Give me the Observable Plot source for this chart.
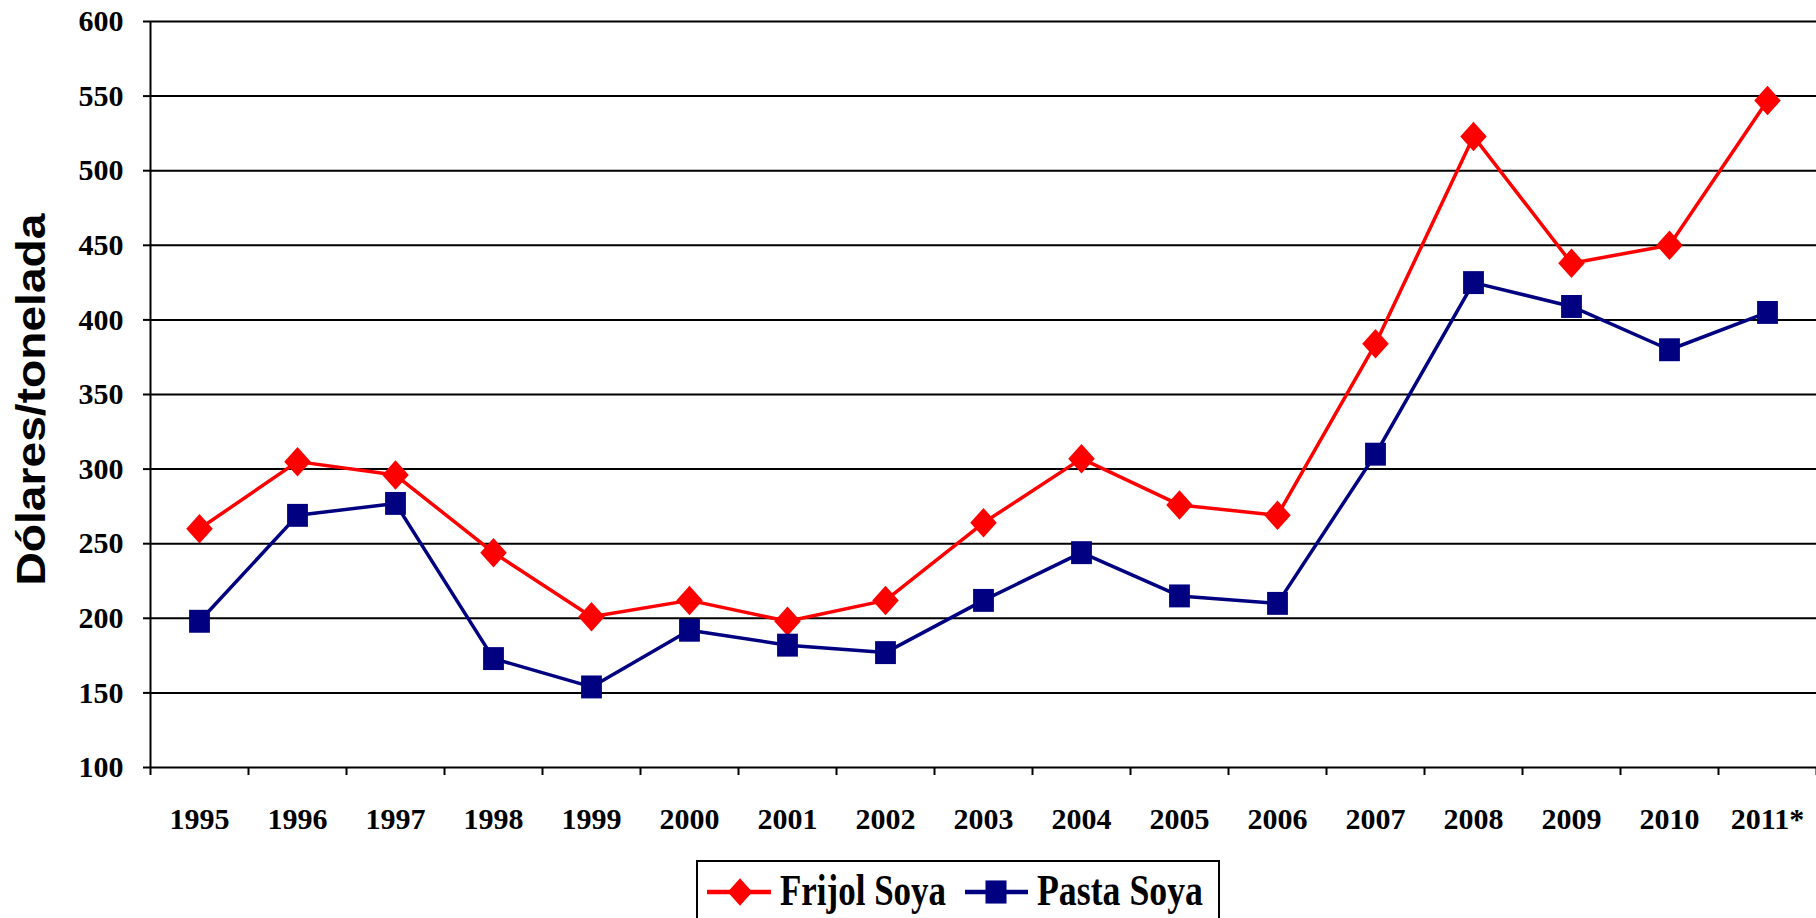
<!DOCTYPE html>
<html>
<head>
<meta charset="utf-8">
<script src="https://cdn.jsdelivr.net/npm/d3@7"></script>
<script src="https://cdn.jsdelivr.net/npm/@observablehq/plot@0.6"></script>
<style>
  html, body { margin: 0; padding: 0; background: #fff; }
  #chart svg { display: block; }
  #legend svg { display: block; }
</style>
</head>
<body>
<div id="chart"></div>
<div id="legend"></div>
<script>
// ---- data ----
const years = ["1995","1996","1997","1998","1999","2000","2001","2002","2003","2004","2005","2006","2007","2008","2009","2010","2011*"];
const frijolSoya = [260, 305, 296, 244, 201, 212, 198, 212, 264, 307, 276, 269, 384, 523, 438, 450, 547];
const pastaSoya  = [198, 269, 277, 173, 154, 192, 182, 177, 212, 244, 215, 210, 310, 425, 409, 380, 405];
const yTicks = [100, 150, 200, 250, 300, 350, 400, 450, 500, 550, 600];
const seriesNames = ["Frijol Soya", "Pasta Soya"];
const seriesColors = ["#ff0000", "#000080"];
const yTitle = "Dólares/tonelada";

const rowsF = years.map((year, i) => ({i, year, value: frijolSoya[i]}));
const rowsP = years.map((year, i) => ({i, year, value: pastaSoya[i]}));
const boundaries = d3.range(years.length + 1).map(k => k - 0.5);
const centers = d3.range(years.length);

const serif = "'Liberation Serif', 'DejaVu Serif', serif";
const sans = "'Liberation Sans', Arial, sans-serif";

// slightly tall diamond and square, as in the reference
const tallDiamond = {draw(ctx, size) {
  const r = Math.sqrt(size / Math.PI), w = r * 1.07, h = r * 1.19;
  ctx.moveTo(0, -h); ctx.lineTo(w, 0); ctx.lineTo(0, h); ctx.lineTo(-w, 0); ctx.closePath();
}};
const tallSquare = {draw(ctx, size) {
  const r = Math.sqrt(size / Math.PI), w = r * 0.89, h = r * 0.98;
  ctx.moveTo(-w, -h); ctx.lineTo(w, -h); ctx.lineTo(w, h); ctx.lineTo(-w, h); ctx.closePath();
}};

const chart = Plot.plot({
  width: 1816,
  height: 855,
  marginLeft: 150,
  marginRight: 0,
  marginTop: 21,
  marginBottom: 88,
  style: {fontFamily: serif, fontWeight: "bold", fontSize: "30px", color: "black", background: "white", overflow: "visible"},
  x: {type: "linear", domain: [-0.5, years.length - 0.5], axis: null},
  y: {domain: [100, 600], axis: null},
  marks: [
    Plot.gridY(yTicks, {stroke: "black", strokeOpacity: 1, strokeWidth: 2}),
    Plot.axisY(yTicks, {label: null, tickSize: 7, tickPadding: 20, stroke: "black", strokeWidth: 2, fontSize: 30, fontWeight: "bold", fontFamily: serif, fill: "black"}),
    Plot.ruleX([-0.5], {stroke: "black", strokeWidth: 2}),
    Plot.axisX(boundaries, {label: null, tickSize: 8, tickFormat: () => "", stroke: "black", strokeWidth: 2}),
    Plot.axisX(centers, {label: null, tickSize: 0, tickPadding: 40, tickFormat: i => years[i], fontSize: 30, fontWeight: "bold", fontFamily: serif, fill: "black"}),
    Plot.line(rowsF, {x: "i", y: "value", stroke: seriesColors[0], strokeWidth: 3.5}),
    Plot.line(rowsP, {x: "i", y: "value", stroke: seriesColors[1], strokeWidth: 3.5}),
    Plot.dot(rowsF, {x: "i", y: "value", symbol: tallDiamond, r: 12.4, fill: seriesColors[0], stroke: "none"}),
    Plot.dot(rowsP, {x: "i", y: "value", symbol: tallSquare, r: 11.7, fill: seriesColors[1], stroke: "none"}),
    Plot.text([yTitle], {frameAnchor: "left", rotate: -90, textAnchor: "middle", lineAnchor: "bottom", dx: -106, dy: 5,
      fontFamily: sans, fontWeight: "bold", fontSize: 41, fill: "black", className: "ytitle"})
  ]
});
document.getElementById("chart").appendChild(chart);
d3.select(chart).selectAll(".ytitle text").attr("textLength", 372).attr("lengthAdjust", "spacingAndGlyphs");

// ---- legend (below the SVG) ----
const lg = d3.select("#legend").append("svg").attr("width", 1816).attr("height", 63);
lg.append("rect").attr("x", 697).attr("y", 6).attr("width", 522).attr("height", 70)
  .attr("fill", "white").attr("stroke", "black").attr("stroke-width", 2);
const items = [
  {name: seriesNames[0], color: seriesColors[0], x0: 707, x1: 771, cx: 740, tx: 780, tl: 166, sym: tallDiamond, r: 11.5},
  {name: seriesNames[1], color: seriesColors[1], x0: 965, x1: 1028, cx: 996, tx: 1037, tl: 166, sym: tallSquare, r: 11.8}
];
const cy = 37;
for (const it of items) {
  lg.append("line").attr("x1", it.x0).attr("x2", it.x1).attr("y1", cy).attr("y2", cy)
    .attr("stroke", it.color).attr("stroke-width", 4.5);
  lg.append("path").attr("d", d3.symbol(it.sym, Math.PI * it.r * it.r)()).attr("transform", `translate(${it.cx},${cy})`).attr("fill", it.color);
  lg.append("text").attr("x", it.tx).attr("y", 50).text(it.name)
    .attr("font-family", serif).attr("font-weight", "bold").attr("font-size", 44).attr("fill", "black")
    .attr("textLength", it.tl).attr("lengthAdjust", "spacingAndGlyphs");
}
</script>
</body>
</html>
